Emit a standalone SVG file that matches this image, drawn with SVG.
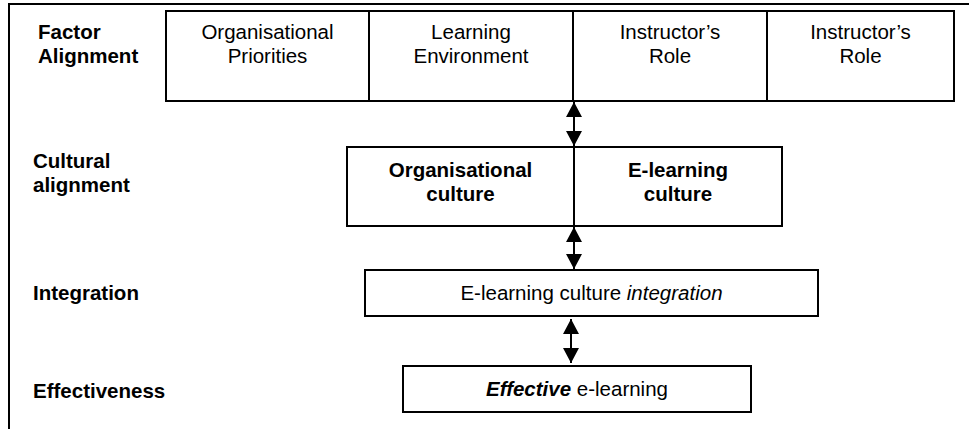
<svg xmlns="http://www.w3.org/2000/svg" width="969" height="429" viewBox="0 0 969 429">
<defs>
<style>
text{font-family:"Liberation Sans",Arial,sans-serif;font-size:20.5px;fill:#000}
.b{font-weight:bold}
.c{text-anchor:middle}
.box{fill:#fff;stroke:#000;stroke-width:2}
.ln{stroke:#000;stroke-width:2;fill:none}
</style>
<marker id="ah" markerUnits="userSpaceOnUse" markerWidth="16" markerHeight="16" refX="15" refY="8" orient="auto-start-reverse" viewBox="0 0 16 16">
<path d="M0,0 L15,8 L0,16 Z" fill="#000"/>
</marker>
</defs>
<g id="frame">
<path class="ln" d="M9,429 V4 H969"/>
</g>
<g id="labels">
<text class="b" x="38" y="39">Factor</text>
<text class="b" x="38" y="63">Alignment</text>
<text class="b" x="33" y="168">Cultural</text>
<text class="b" x="33" y="192">alignment</text>
<text class="b" x="33" y="300">Integration</text>
<text class="b" x="33" y="398">Effectiveness</text>
</g>
<g id="factor-boxes">
<rect class="box" x="166" y="11" width="788" height="90"/>
<path class="ln" d="M369,11 V101 M573,11 V101 M767,11 V101"/>
</g>
<g id="n-org-priorities">
<text class="c" x="267.5" y="39">Organisational</text>
<text class="c" x="267.5" y="63">Priorities</text>
</g>
<g id="n-learning-env">
<text class="c" x="471" y="39">Learning</text>
<text class="c" x="471" y="63">Environment</text>
</g>
<g id="n-instructor-1">
<text class="c" x="670" y="39">Instructor’s</text>
<text class="c" x="670" y="63">Role</text>
</g>
<g id="n-instructor-2">
<text class="c" x="860.5" y="39">Instructor’s</text>
<text class="c" x="860.5" y="63">Role</text>
</g>
<g id="n-culture">
<rect class="box" x="347" y="147" width="435" height="79"/>
<path class="ln" d="M574,147 V226"/>
<text class="b c" x="460.5" y="177">Organisational</text>
<text class="b c" x="460.5" y="201">culture</text>
<text class="b c" x="678" y="177">E-learning</text>
<text class="b c" x="678" y="201">culture</text>
</g>
<g id="n-integration">
<rect class="box" x="365" y="270" width="453" height="46"/>
<text class="c" x="591.5" y="300">E-learning culture <tspan font-style="italic">integration</tspan></text>
</g>
<g id="n-effective">
<rect class="box" x="403" y="366" width="348" height="46"/>
<text class="c" x="577" y="396"><tspan class="b" font-style="italic">Effective</tspan> e-learning</text>
</g>
<g id="connectors">
<line class="ln" x1="574" y1="102" x2="574" y2="146" marker-start="url(#ah)" marker-end="url(#ah)"/>
<line class="ln" x1="574" y1="227" x2="574" y2="269" marker-start="url(#ah)" marker-end="url(#ah)"/>
<line class="ln" x1="571" y1="319" x2="571" y2="363" marker-start="url(#ah)" marker-end="url(#ah)"/>
</g>
</svg>
